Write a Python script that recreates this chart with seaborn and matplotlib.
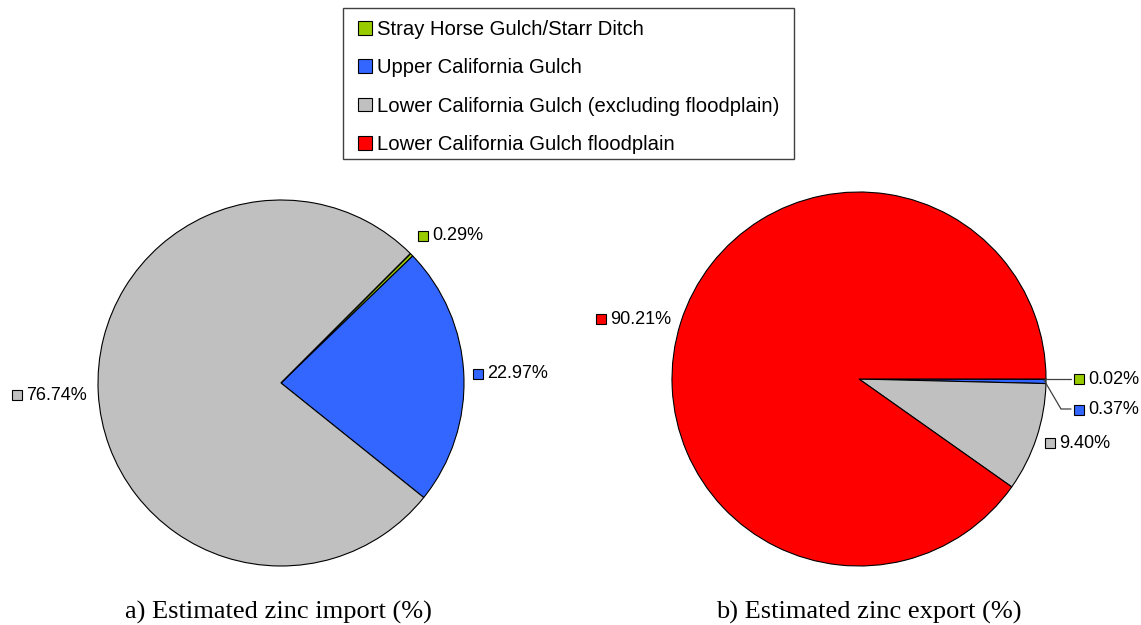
import matplotlib
matplotlib.use("Agg")
import matplotlib.pyplot as plt
from matplotlib.patches import Patch, Rectangle
from matplotlib.legend_handler import HandlerPatch
import seaborn as sns

# Zinc load shares by source area
sources = [
    "Stray Horse Gulch/Starr Ditch",
    "Upper California Gulch",
    "Lower California Gulch (excluding floodplain)",
    "Lower California Gulch floodplain",
]
import_pct = [0.29, 22.97, 76.74, 0.0]
export_pct = [0.02, 0.37, 9.40, 90.21]
titles = ["a) Estimated zinc import (%)", "b) Estimated zinc export (%)"]

palette = ["#99CC00", "#3366FF", "#C0C0C0", "#FF0000"]

sns.set_theme(style="white")
plt.rcParams["font.family"] = ["Liberation Sans", "DejaVu Sans"]
plt.rcParams["text.color"] = "black"

W, H = 1141, 625
fig = plt.figure(figsize=(W / 100, H / 100), dpi=100)
ax = fig.add_axes([0, 0, 1, 1])


def fy(y):
    """Convert a top-down pixel row to the axes' bottom-up coordinate."""
    return H - y


pies = [
    dict(values=import_pct, center=(281, 383), radius=183, start=45,
         label_pos=[(418, 236), (473, 374), (12, 395), None], title_x=278),
    dict(values=export_pct, center=(859, 379), radius=187, start=0,
         label_pos=[(1074, 379), (1074, 410), (1045, 443), (596, 319)], title_x=869),
]

for p, title in zip(pies, titles):
    cx, cy = p["center"]
    ax.pie(p["values"], colors=palette, startangle=p["start"], counterclock=False,
           center=(cx, fy(cy)), radius=p["radius"],
           wedgeprops=dict(edgecolor="black", linewidth=0.8))
    for val, col, pos in zip(p["values"], palette, p["label_pos"]):
        if pos is None or val <= 0:
            continue
        sx, sy = pos
        ax.add_patch(Rectangle((sx, fy(sy) - 5), 10, 10, facecolor=col,
                               edgecolor="black", linewidth=0.8, zorder=5))
        ax.text(sx + 14, fy(sy), f"{val:.2f}%", ha="left", va="center",
                fontsize=13, color="black", zorder=5)
    fig.text(p["title_x"] / W, 1 - 612 / H, title, ha="center", va="center",
             fontfamily="Liberation Serif", fontsize=19, color="black")

# leader lines for the two thin export slices
ax.plot([1045, 1071], [fy(379), fy(379)], color="#404040", lw=0.9)
ax.plot([1044, 1061, 1071], [fy(380), fy(409), fy(409)], color="#404040", lw=0.9)

ax.set_xlim(0, W)
ax.set_ylim(0, H)
ax.set_aspect("equal")
ax.axis("off")


def square_key(legend, orig_handle, xdescent, ydescent, width, height, fontsize):
    """Small square legend key, right-aligned in its handle box."""
    side = 10.0
    return Rectangle((width - side - xdescent, (height - side) / 2 - ydescent),
                     side, side)


handles = [Patch(facecolor=c, edgecolor="black", linewidth=0.8, label=s)
           for c, s in zip(palette, sources)]
leg = fig.legend(handles=handles, loc="upper left",
                 bbox_to_anchor=(343 / W, 1 - 11 / H), fontsize=14.6,
                 frameon=False,
                 handlelength=0.99, handleheight=0.68, handletextpad=0.25,
                 labelspacing=0.95, borderpad=0.45, borderaxespad=0,
                 handler_map={Patch: HandlerPatch(patch_func=square_key)})
for txt in leg.get_texts():
    txt.set_color("black")

# legend box outline
fig.patches.append(Rectangle((343 / W, 1 - 159 / H), 451 / W, 151 / H,
                             transform=fig.transFigure, fill=False,
                             edgecolor="#404040", linewidth=1.0))

fig.savefig("out.png", dpi=100)
